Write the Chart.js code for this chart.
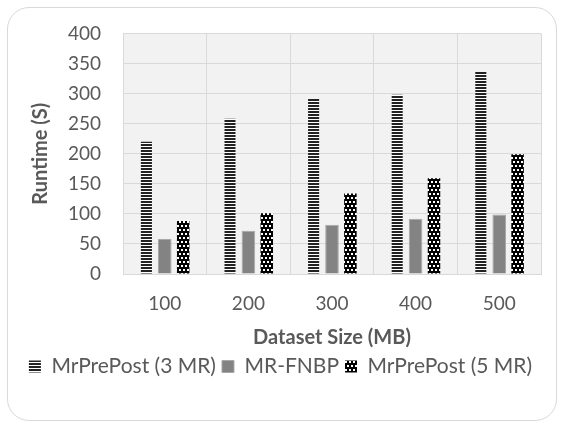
<!DOCTYPE html>
<html>
<head>
<meta charset="utf-8">
<script src="https://cdn.jsdelivr.net/npm/chart.js@4"></script>
<style>
  html, body { margin: 0; padding: 0; background: #ffffff; }
  #wrap { position: relative; width: 561px; height: 423px; }
  #card { position: absolute; left: 7px; top: 7px; width: 550px; height: 414px;
          border: 1px solid #d9d9d9; border-radius: 22px; box-sizing: border-box; }
  canvas { position: absolute; left: 0; top: 0; }
</style>
</head>
<body>
<div id="wrap">
  <div id="card"></div>
  <canvas id="c" width="561" height="423"></canvas>
</div>
<script>
const categories = ['100', '200', '300', '400', '500'];
const seriesNames = ['MrPrePost (3 MR)', 'MR-FNBP', 'MrPrePost (5 MR)'];
const mrPrePost3 = [220, 258, 291, 298, 336];
const mrFNBP = [58, 72, 82, 92, 99];
const mrPrePost5 = [88, 101, 134, 159, 199];
const yTicks = [0, 50, 100, 150, 200, 250, 300, 350, 400];

function stripePattern() {
  const p = document.createElement('canvas');
  p.width = 4; p.height = 3;
  const g = p.getContext('2d');
  g.fillStyle = '#ffffff'; g.fillRect(0, 0, 4, 3);
  g.fillStyle = '#222222'; g.fillRect(0, 0, 4, 2);
  return g.createPattern(p, 'repeat');
}
function dotPattern() {
  const p = document.createElement('canvas');
  p.width = 8; p.height = 8;
  const g = p.getContext('2d');
  g.fillStyle = '#000000'; g.fillRect(0, 0, 8, 8);
  g.fillStyle = '#ffffff';
  g.fillRect(1, 1, 2, 2); g.fillRect(5, 1, 2, 2);
  g.fillRect(3, 5, 2, 2); g.fillRect(7, 5, 1, 2); g.fillRect(0, 5, 1, 2);
  return g.createPattern(p, 'repeat');
}

const plotBg = {
  id: 'plotBg',
  beforeDraw(chart) {
    const a = chart.chartArea, ctx = chart.ctx;
    ctx.save();
    ctx.fillStyle = '#f2f2f2';
    ctx.fillRect(a.left, a.top, a.right - a.left, a.bottom - a.top);
    ctx.restore();
  }
};

const LEGEND_H = 64;
const legendFix = {
  id: 'legendFix',
  afterInit(chart) {
    const lg = chart.legend;
    if (!lg) return;
    const f = lg.fit.bind(lg);
    lg.fit = function () { f(); this.height = LEGEND_H; };
  }
};

const FONT = 'Lato, "Noto Sans", sans-serif';
const GREY = '#595959';

new Chart(document.getElementById('c'), {
  type: 'bar',
  data: {
    labels: categories,
    datasets: [
      { label: seriesNames[0], data: mrPrePost3, backgroundColor: stripePattern(), borderWidth: 0, barPercentage: 0.6 },
      { label: seriesNames[1], data: mrFNBP, backgroundColor: '#838383', borderColor: '#a8a8a8', borderWidth: 1, barPercentage: 0.74 },
      { label: seriesNames[2], data: mrPrePost5, backgroundColor: dotPattern(), borderWidth: 0, barPercentage: 0.68 }
    ]
  },
  options: {
    responsive: false,
    animation: false,
    devicePixelRatio: 1,
    layout: { padding: { left: 20, right: 20, top: 23, bottom: 9 } },
    datasets: { bar: { categoryPercentage: 0.66 } },
    plugins: {
      legend: {
        position: 'bottom',
        labels: {
          color: GREY, font: { family: FONT, size: 21 },
          boxWidth: 12, boxHeight: 12, padding: 6
        }
      },
      tooltip: { enabled: false }
    },
    scales: {
      x: {
        afterFit(s) { s.height = 76; },
        grid: { color: '#d9d9d9', offset: true, drawTicks: false },
        border: { color: '#d9d9d9' },
        ticks: { color: GREY, font: { family: FONT, size: 19 }, padding: 18 },
        title: { display: true, text: 'Dataset Size (MB)', color: GREY,
                 font: { family: FONT, size: 20, weight: 'bold' }, padding: { top: 0, bottom: 0 } }
      },
      y: {
        min: 0, max: 400,
        afterFit(s) { s.width = 103; },
        afterBuildTicks(s) { s.ticks = yTicks.map(v => ({ value: v })); },
        grid: { color: '#d9d9d9', drawTicks: false },
        border: { color: '#d9d9d9' },
        ticks: { color: GREY, font: { family: FONT, size: 19 }, padding: 22 },
        title: { display: true, text: 'Runtime (S)', color: GREY,
                 font: { family: FONT, size: 20, weight: 'bold' }, padding: { top: 9, bottom: 0 } }
      }
    }
  },
  plugins: [plotBg, legendFix]
});
</script>
</body>
</html>
